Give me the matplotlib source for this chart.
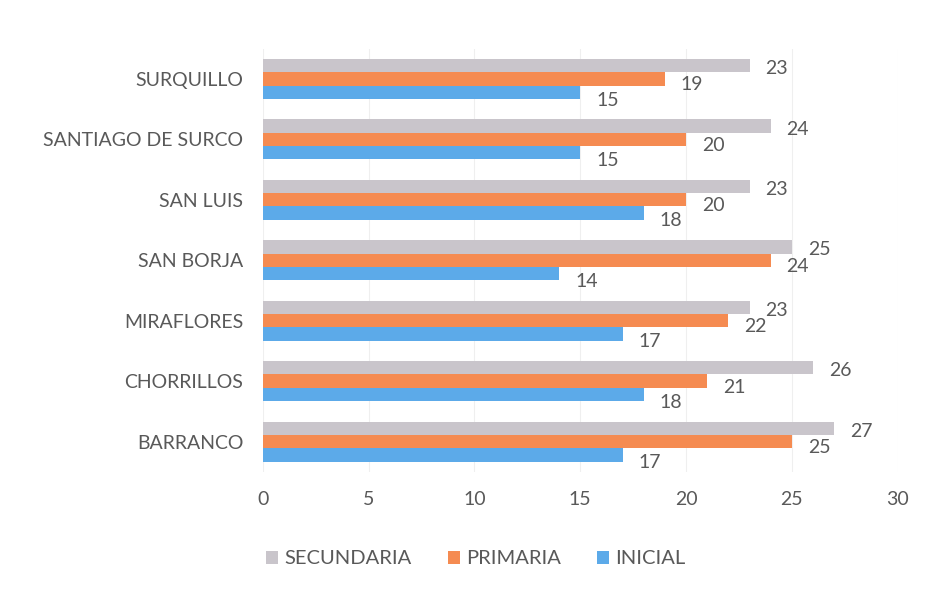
import matplotlib.pyplot as plt
import numpy as np

plt.rcParams['font.family'] = ['Lato', 'DejaVu Sans']

distritos = ["BARRANCO", "CHORRILLOS", "MIRAFLORES", "SAN BORJA",
             "SAN LUIS", "SANTIAGO DE SURCO", "SURQUILLO"]
secundaria = [27, 26, 23, 25, 23, 24, 23]
primaria = [25, 21, 22, 24, 20, 20, 19]
inicial = [17, 18, 17, 14, 18, 15, 15]

series = [("SECUNDARIA", secundaria, "#c9c5cb"),
          ("PRIMARIA", primaria, "#f58b51"),
          ("INICIAL", inicial, "#5caae9")]

txt = "#595959"

fig = plt.figure(figsize=(9.42, 6.01), dpi=100)
ax = fig.add_axes([0.279, 0.215, 0.674, 0.704])

y = np.arange(len(distritos))
h = 0.22
offsets = [h, 0, -h]
label_shift = [-0.05, -0.1, -0.13]

for (name, vals, col), off, ls in zip(series, offsets, label_shift):
    ax.barh(y + off, vals, height=h, color=col, label=name)
    for yi, v in zip(y, vals):
        ax.text(v + 0.75, yi + off + ls, str(v), va="center", ha="left",
                fontsize=14, color=txt)

ax.set_xlim(0, 30)
ax.set_ylim(-0.5, len(distritos) - 0.5)
ax.set_xticks(range(0, 31, 5))
ax.set_yticks(y)
ax.set_yticklabels(distritos)
ax.tick_params(axis="both", length=0, labelsize=14, colors=txt)
ax.tick_params(axis="x", pad=14)
ax.tick_params(axis="y", pad=14)
ax.xaxis.grid(True, color="#efefef", linewidth=0.8)
ax.set_axisbelow(True)
for s in ax.spines.values():
    s.set_visible(False)

handles, labels = ax.get_legend_handles_labels()
fig.legend(handles, labels, loc="center", bbox_to_anchor=(0.505, 0.07),
           ncol=3, frameon=False, fontsize=14.5, labelcolor=txt,
           handlelength=0.6, handleheight=0.6, handletextpad=0.3,
           columnspacing=1.8)

fig.savefig("out.png", dpi=100)
